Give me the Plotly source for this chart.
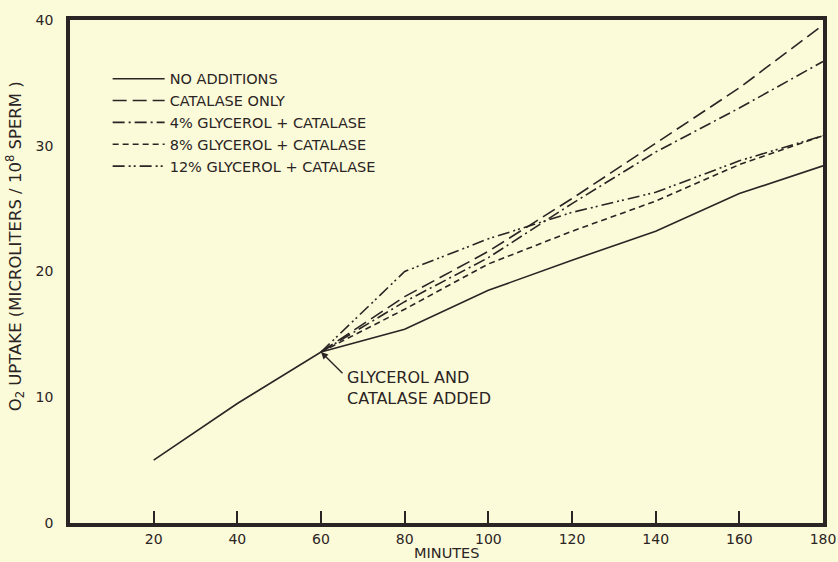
import plotly.graph_objects as go

minutes_base = [20, 40, 60, 80, 100, 120, 140, 160, 180]
no_additions = [5.0, 9.5, 13.6, 15.4, 18.5, 20.9, 23.2, 26.2, 28.4]

minutes_treat = [60, 80, 100, 120, 140, 160, 180]
catalase_only = [13.6, 18.0, 21.6, 25.8, 30.2, 34.6, 39.6]
glyc4 = [13.6, 17.6, 21.1, 25.4, 29.5, 33.0, 36.7]
glyc8 = [13.6, 17.0, 20.6, 23.2, 25.6, 28.5, 30.8]
glyc12 = [13.6, 20.0, 22.6, 24.7, 26.3, 28.8, 30.8]

x_ticks = [20, 40, 60, 80, 100, 120, 140, 160, 180]
y_ticks = [0, 10, 20, 30, 40]

INK = "#2b2424"
BG = "#fbfbd9"
FONT = "DejaVu Sans"

fig = go.Figure()
series = [
    ("NO ADDITIONS", minutes_base, no_additions, "solid"),
    ("CATALASE ONLY", minutes_treat, catalase_only, "14px,6px"),
    ("4% GLYCEROL + CATALASE", minutes_treat, glyc4, "12px,4px,2px,4px"),
    ("8% GLYCEROL + CATALASE", minutes_treat, glyc8, "6px,4px"),
    ("12% GLYCEROL + CATALASE", minutes_treat, glyc12, "12px,4px,2px,3px,2px,4px"),
]
for name, xs, ys, dash in series:
    fig.add_trace(go.Scatter(x=xs, y=ys, mode="lines", name=name,
                             line=dict(color=INK, width=1.6, dash=dash)))

fig.add_annotation(x=60, y=13.6, xref="x", yref="y", axref="x", ayref="y",
                   ax=65.5, ay=11.8, text="", showarrow=True,
                   arrowhead=2, arrowsize=1, arrowwidth=1.4, arrowcolor=INK)
fig.add_annotation(x=65.7, y=10.7, xref="x", yref="y", text="GLYCEROL AND<br>CATALASE ADDED",
                   showarrow=False, xanchor="left", yanchor="middle", align="left",
                   font=dict(family=FONT, size=16, color=INK))
fig.add_annotation(x=0.5, y=0, xref="paper", yref="paper", yshift=-30, text="MINUTES",
                   showarrow=False, xanchor="center", yanchor="middle",
                   font=dict(family=FONT, size=14.5, color=INK))
fig.add_annotation(x=0, y=0.55, xref="paper", yref="paper", xshift=-55,
                   text="O<sub>2</sub> UPTAKE (MICROLITERS / 10<sup>8</sup> SPERM )",
                   textangle=-90, showarrow=False, xanchor="center", yanchor="middle",
                   font=dict(family=FONT, size=16.5, color=INK))

fig.update_layout(
    width=838, height=562,
    margin=dict(l=70, r=15, t=20, b=39, autoexpand=False),
    paper_bgcolor=BG, plot_bgcolor=BG,
    font=dict(family=FONT, size=14, color=INK),
    showlegend=True,
    legend=dict(x=0.05, y=0.915, xanchor="left", yanchor="top",
                bgcolor="rgba(0,0,0,0)", font=dict(family=FONT, size=14.5, color=INK),
                itemwidth=52, tracegroupgap=0),
)
fig.update_xaxes(range=[0, 180], tickvals=x_ticks, ticks="inside", ticklen=12,
                 tickwidth=1.5, tickcolor=INK, showgrid=False, zeroline=False,
                 showline=True, linewidth=3.5, linecolor=INK, mirror=True,
                 automargin=False, tickfont=dict(family=FONT, size=14, color=INK))
fig.update_yaxes(range=[0, 40], tickvals=y_ticks, ticks="", showgrid=False,
                 zeroline=False, showline=True, linewidth=3.5, linecolor=INK,
                 mirror=True, ticklabelstandoff=10, automargin=False,
                 tickfont=dict(family=FONT, size=14, color=INK))

fig.write_html("out.html", config={"displayModeBar": False},
               post_script="document.body.style.margin='0';document.body.style.background='%s';" % BG)
